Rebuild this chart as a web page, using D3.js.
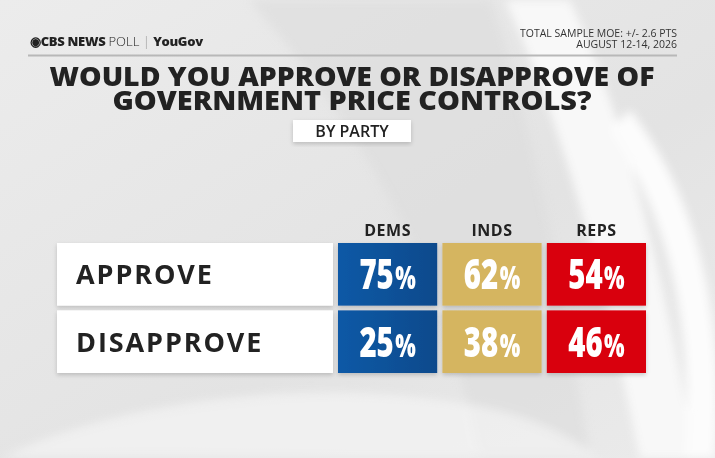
<!DOCTYPE html>
<html>
<head>
<meta charset="utf-8">
<script src="https://cdn.jsdelivr.net/npm/d3@7"></script>
<style>
  html, body { margin: 0; padding: 0; background: #e9e9e9; }
  svg { display: block; }
</style>
</head>
<body>
<div id="chart"></div>
<script>
// chart values
var parties = ["DEMS", "INDS", "REPS"];
var responses = ["APPROVE", "DISAPPROVE"];
var dems = [75, 25];
var inds = [62, 38];
var reps = [54, 46];
var titleLines = ["WOULD YOU APPROVE OR DISAPPROVE OF", "GOVERNMENT PRICE CONTROLS?"];
var subtitle = "BY PARTY";
var noteLines = ["TOTAL SAMPLE MOE: +/- 2.6 PTS", "AUGUST 12-14, 2026"];

var width = 715, height = 458;

var svg = d3.select("#chart")
  .append("svg")
    .attr("width", width)
    .attr("height", height);

var defs = svg.append("defs");

// soft background
var bg = defs.append("linearGradient").attr("id", "bg")
  .attr("x1", 0).attr("y1", 0).attr("x2", 1).attr("y2", 1);
bg.append("stop").attr("offset", "0%").attr("stop-color", "#ececec");
bg.append("stop").attr("offset", "60%").attr("stop-color", "#e3e3e3");
bg.append("stop").attr("offset", "100%").attr("stop-color", "#ebebeb");

var blur = defs.append("filter").attr("id", "blur")
  .attr("x", "-20%").attr("y", "-20%").attr("width", "140%").attr("height", "140%");
blur.append("feGaussianBlur").attr("stdDeviation", 5);

var shadow = defs.append("filter").attr("id", "shadow")
  .attr("x", "-10%").attr("y", "-10%").attr("width", "120%").attr("height", "130%");
shadow.append("feDropShadow").attr("dx", 0).attr("dy", 2).attr("stdDeviation", 2)
  .attr("flood-color", "#000").attr("flood-opacity", 0.18);

var blueGrad = defs.append("linearGradient").attr("id", "blueGrad")
  .attr("x1", 0).attr("y1", 0).attr("x2", 1).attr("y2", 0);
blueGrad.append("stop").attr("offset", "0%").attr("stop-color", "#0e59a6");
blueGrad.append("stop").attr("offset", "100%").attr("stop-color", "#0a4a8c");

svg.append("rect").attr("width", width).attr("height", height).attr("fill", "url(#bg)");

// swooshes
var swoosh = svg.append("g").attr("filter", "url(#blur)");
swoosh.append("path")
  .attr("d", "M490,0 C530,120 555,250 590,458 L480,458 C450,300 390,160 250,0 Z")
  .attr("fill", "#dcdcdc").attr("opacity", 0.6);
swoosh.append("path")
  .attr("d", "M505,0 L570,0 C615,100 655,220 695,458 L640,458 C600,260 560,120 505,0 Z")
  .attr("fill", "#f8f8f8");
swoosh.append("path")
  .attr("d", "M630,110 C700,200 725,320 715,458 L685,458 C695,330 670,220 610,130 Z")
  .attr("fill", "#fcfcfc");
swoosh.append("path")
  .attr("d", "M0,458 C120,400 300,380 440,400 C520,410 560,430 600,458 Z")
  .attr("fill", "#f2f2f2").attr("opacity", 0.8);

// header: logo
var logo = svg.append("text")
  .attr("x", 30).attr("y", 46)
  .attr("font-family", "'Open Sans', Lato, sans-serif")
  .attr("font-size", 13)
  .attr("fill", "#222");
logo.append("tspan").attr("font-weight", 800).attr("letter-spacing", -0.3).text("\u25C9CBS NEWS ");
logo.append("tspan").attr("font-weight", 300).text("POLL ");
logo.append("tspan").attr("font-weight", 300).attr("fill", "#999").text("| ");
logo.append("tspan").attr("font-weight", 800).attr("letter-spacing", -0.3).text("YouGov");

var note = svg.append("text")
  .attr("text-anchor", "end")
  .attr("font-family", "'Open Sans', Lato, sans-serif")
  .attr("font-size", 10.5)
  .attr("fill", "#333");
note.selectAll("tspan")
  .data(noteLines)
  .enter()
  .append("tspan")
    .attr("x", 677)
    .attr("y", function(d, i) { return 37 + i * 10.6; })
    .text(function(d) { return d; });

svg.append("line")
  .attr("x1", 28).attr("x2", 677)
  .attr("y1", 55.5).attr("y2", 55.5)
  .attr("stroke", "#b8b8b8").attr("stroke-width", 2);

// title
var title = svg.append("text")
  .attr("text-anchor", "middle")
  .attr("font-family", "'Open Sans', Lato, sans-serif")
  .attr("font-weight", 800)
  .attr("font-size", 26.5)
  .attr("fill", "#222");
var titleWidths = [605, 479];
title.selectAll("tspan")
  .data(titleLines)
  .enter()
  .append("tspan")
    .attr("x", 352)
    .attr("y", function(d, i) { return 86 + i * 23.6; })
    .attr("textLength", function(d, i) { return titleWidths[i]; })
    .attr("lengthAdjust", "spacingAndGlyphs")
    .text(function(d) { return d; });

svg.append("rect")
  .attr("x", 293).attr("y", 120)
  .attr("width", 118).attr("height", 22)
  .attr("fill", "#fff")
  .attr("filter", "url(#shadow)");
svg.append("text")
  .attr("x", 352).attr("y", 137)
  .attr("text-anchor", "middle")
  .attr("font-family", "'Open Sans', Lato, sans-serif")
  .attr("font-weight", 600)
  .attr("font-size", 16)
  .attr("fill", "#222")
  .text(subtitle);

// table scales
var x = d3.scaleBand()
  .domain(parties)
  .range([338, 646])
  .paddingInner(0.05);

var y = d3.scaleBand()
  .domain(responses)
  .range([243, 373])
  .paddingInner(0.07);

var color = d3.scaleOrdinal()
  .domain(parties)
  .range(["url(#blueGrad)", "#d5b560", "#d9050f"]);

var values = { DEMS: dems, INDS: inds, REPS: reps };

// column headers
svg.selectAll(".party")
  .data(parties)
  .enter()
  .append("text")
    .attr("class", "party")
    .attr("x", function(d) { return x(d) + x.bandwidth() / 2; })
    .attr("y", 236)
    .attr("text-anchor", "middle")
    .attr("font-family", "'Open Sans', Lato, sans-serif")
    .attr("font-weight", 700)
    .attr("font-size", 16)
    .attr("letter-spacing", 0.5)
    .attr("fill", "#222")
    .text(function(d) { return d; });

// row labels
var rows = svg.selectAll(".row")
  .data(responses)
  .enter()
  .append("g")
    .attr("class", "row")
    .attr("transform", function(d) { return "translate(0," + y(d) + ")"; });

rows.append("rect")
  .attr("x", 57)
  .attr("width", 333 - 57)
  .attr("height", y.bandwidth())
  .attr("fill", "#fff")
  .attr("filter", "url(#shadow)");

rows.append("text")
  .attr("x", 76)
  .attr("y", y.bandwidth() / 2 + 10)
  .attr("font-family", "'Open Sans', Lato, sans-serif")
  .attr("font-weight", 700)
  .attr("font-size", 27)
  .attr("letter-spacing", 1.9)
  .attr("fill", "#222")
  .text(function(d) { return d; });

// cells
var cells = [];
responses.forEach(function(r, ri) {
  parties.forEach(function(p) {
    cells.push({ response: r, party: p, value: values[p][ri] });
  });
});

svg.selectAll(".cell")
  .data(cells)
  .enter()
  .append("rect")
    .attr("class", "cell")
    .attr("x", function(d) { return x(d.party); })
    .attr("y", function(d) { return y(d.response); })
    .attr("width", x.bandwidth())
    .attr("height", y.bandwidth())
    .attr("fill", function(d) { return color(d.party); })
    .attr("filter", "url(#shadow)");

// condensed look: squeeze the numbers horizontally
var labels = svg.selectAll(".pct")
  .data(cells)
  .enter()
  .append("text")
    .attr("class", "pct")
    .attr("transform", function(d) {
      var cx = x(d.party) + x.bandwidth() / 2;
      var cy = y(d.response) + y.bandwidth() / 2 + 15;
      return "translate(" + cx + "," + cy + ") scale(0.7,1)";
    })
    .attr("text-anchor", "middle")
    .attr("font-family", "'Open Sans', Lato, sans-serif")
    .attr("font-weight", 800)
    .attr("font-size", 42)
    .attr("fill", "#fff");
labels.append("tspan").text(function(d) { return d.value; });
labels.append("tspan").attr("font-size", 31).attr("dx", 2).text("%");
</script>
</body>
</html>
